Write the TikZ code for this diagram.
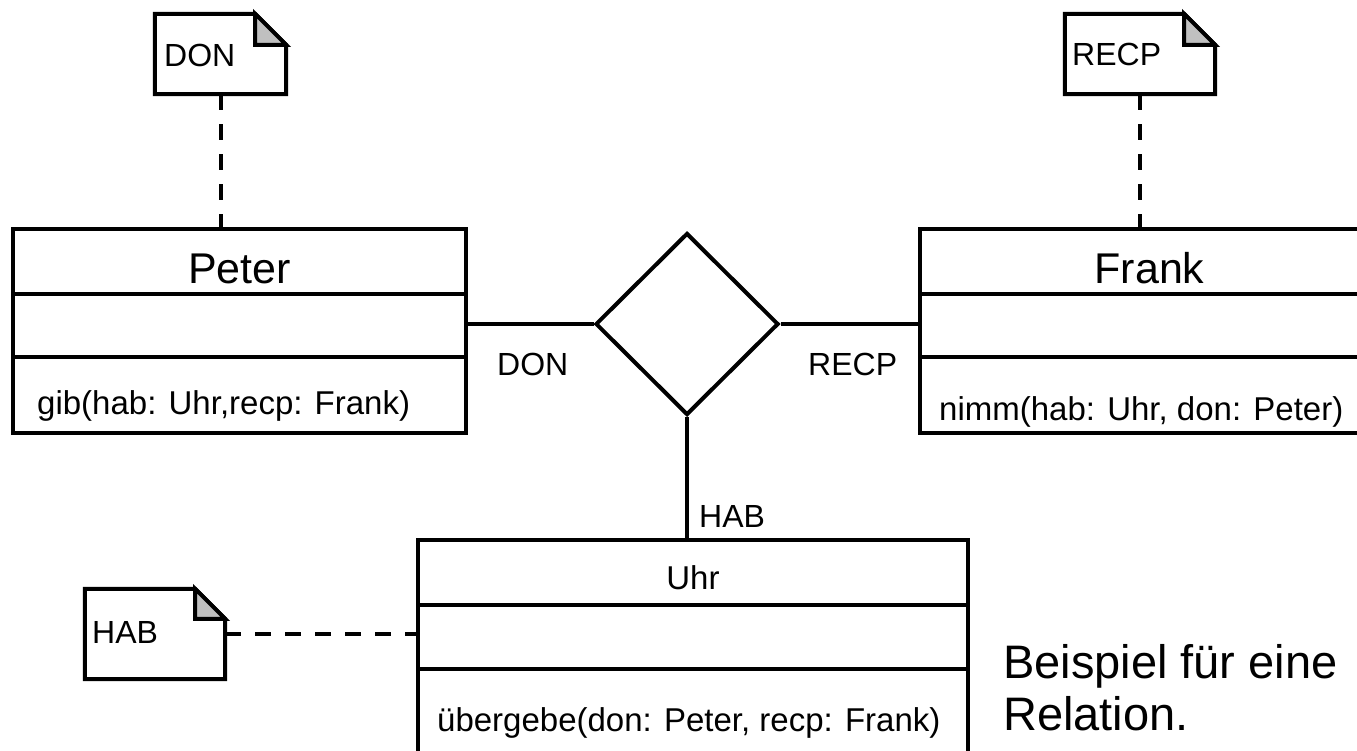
\documentclass[tikz,border=0pt]{standalone}
\usepackage{fontspec}
\setmainfont{Liberation Sans}
\usetikzlibrary{shapes.geometric,calc}

\definecolor{foldgray}{HTML}{C0C0C0}

% folded-corner note outline around a named (invisible) node
\newcommand{\dogearnote}[2]{%
  \draw[noteline] (#1.north west) -- ([xshift=-#2]#1.north east)
        -- ([yshift=-#2]#1.north east) -- (#1.south east)
        -- (#1.south west) -- cycle;
  \filldraw[noteline, fill=foldgray] ([xshift=-#2]#1.north east)
        -- ([xshift=-#2,yshift=-#2]#1.north east)
        -- ([yshift=-#2]#1.north east) -- cycle;
}

\tikzset{
  classbox/.style={draw, line width=4pt, inner sep=0pt},
  divider/.style={line width=3.5pt},
  conn/.style={line width=4pt},
  dashconn/.style={line width=4pt, dash pattern=on 16pt off 14pt},
  noteline/.style={line width=4pt, line join=miter},
  notebox/.style={inner sep=0pt},
  relation/.style={draw, diamond, aspect=1, line width=4pt, inner sep=0pt},
  bigname/.style={font=\fontsize{43}{50}\selectfont, inner sep=0pt},
  smalltxt/.style={font=\fontsize{33}{40}\selectfont, inner sep=0pt},
  roletxt/.style={font=\fontsize{32}{38}\selectfont, inner sep=0pt},
  notetxt/.style={font=\fontsize{32}{38}\selectfont, inner sep=0pt},
}

\begin{document}
\begin{tikzpicture}[x=1pt, y=-1pt]
\clip (0,0) rectangle (1357,750);
\fill[white] (0,0) rectangle (1357,750);

% class boxes
\node[classbox, minimum width=453, minimum height=204] (peter) at (239.5,331) {};
\node[classbox, minimum width=459, minimum height=204] (frank) at (1149.5,331) {};
\node[classbox, minimum width=550, minimum height=260] (uhr) at (693,670) {};

% compartment dividers
\draw[divider] (peter.west |- 0,294) -- (peter.east |- 0,294);
\draw[divider] (peter.west |- 0,357) -- (peter.east |- 0,357);
\draw[divider] (frank.west |- 0,294) -- (frank.east |- 0,294);
\draw[divider] (frank.west |- 0,357) -- (frank.east |- 0,357);
\draw[divider] (uhr.west |- 0,605) -- (uhr.east |- 0,605);
\draw[divider] (uhr.west |- 0,669) -- (uhr.east |- 0,669);

% class names and operations
\node[bigname, anchor=base] (peterName) at (239.5,283) {Peter};
\node[bigname, anchor=base] (frankName) at (1149.5,283) {Frank};
\node[smalltxt, anchor=base] (uhrName) at (693,589) {Uhr};
\node[smalltxt, anchor=base west] (peterOp) at (37,414) {gib(hab: Uhr,recp: Frank)};
\node[smalltxt, anchor=base west] (frankOp) at (939,420) {nimm(hab: Uhr, don: Peter)};
\node[smalltxt, anchor=base west] (uhrOp) at (437,731) {übergebe(don: Peter, recp: Frank)};

% relation diamond and its role connectors
\node[relation, minimum width=183, minimum height=182] (rel) at (687,324) {};
\draw[conn] (rel.west) -- (rel.west -| peter.east);
\draw[conn] (rel.east) -- (rel.east -| frank.west);
\draw[conn] (rel.south) -- (rel.south |- uhr.north);

\node[roletxt, anchor=base west] (roleDon) at (497,375) {DON};
\node[roletxt, anchor=base west] (roleRecp) at (808,375) {RECP};
\node[roletxt, anchor=base west] (roleHab) at (699,527) {HAB};

% notes with folded corners
\node[notebox, minimum width=131, minimum height=80] (noteDon) at (220.5,54) {};
\node[notebox, minimum width=150, minimum height=80] (noteRecp) at (1140,54) {};
\node[notebox, minimum width=140, minimum height=90] (noteHab) at (155,634) {};
\dogearnote{noteDon}{31}
\dogearnote{noteRecp}{31}
\dogearnote{noteHab}{30}
\node[notetxt, anchor=base west] (noteDonTxt) at (164,66) {DON};
\node[notetxt, anchor=base west] (noteRecpTxt) at (1072,65) {RECP};
\node[notetxt, anchor=base west] (noteHabTxt) at (92,643) {HAB};

% dashed note attachments
\draw[dashconn] (noteDon.south) -- (noteDon.south |- peter.north);
\draw[dashconn] (noteRecp.south) -- (noteRecp.south |- frank.north);
\draw[dashconn] (noteHab.east) -- (noteHab.east -| uhr.west);

% caption (base anchor sits on the last line)
\node[font=\fontsize{47}{52}\selectfont, anchor=base west, align=left, inner sep=0pt]
  (caption) at (1003,730) {Beispiel für eine\\Relation.};
\end{tikzpicture}
\end{document}
